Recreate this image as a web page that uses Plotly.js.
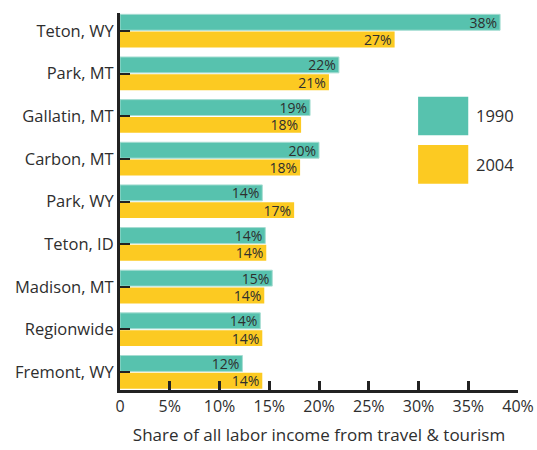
<!DOCTYPE html>
<html>
<head>
<meta charset="utf-8">
<script src="https://cdn.plot.ly/plotly-3.0.1.min.js"></script>
<style>html,body{margin:0;padding:0;background:#fff;}#chart{width:537px;height:450px;}</style>
</head>
<body>
<div id="chart"></div>
<script>
const categories = ["Teton, WY","Park, MT","Gallatin, MT","Carbon, MT","Park, WY","Teton, ID","Madison, MT","Regionwide","Fremont, WY"];
const values1990 = [38.2, 22.0, 19.1, 20.0, 14.3, 14.6, 15.3, 14.1, 12.3];
const values2004 = [27.6, 21.0, 18.2, 18.1, 17.5, 14.7, 14.5, 14.3, 14.3];
const labels1990 = ["38%","22%","19%","20%","14%","14%","15%","14%","12%"];
const labels2004 = ["27%","21%","18%","18%","17%","14%","14%","14%","14%"];
const xTickVals = [0,5,10,15,20,25,30,35,40];
const xTickText = ["0","5%","10%","15%","20%","25%","30%","35%","40%"];
const seriesNames = ["1990","2004"];
const teal = "#57C2AE", yellow = "#FCCA22";
const FONT = "'Open Sans', Lato, sans-serif";
const TXT = "#2e2e2e";

const traces = [
  {type:"bar", orientation:"h", name:seriesNames[0], y:categories, x:values1990, text:labels1990,
   textposition:"inside", insidetextanchor:"end", constraintext:"none", cliponaxis:false,
   textfont:{family:FONT, size:14, color:TXT},
   marker:{color:teal, line:{color:"#A6DDD2", width:1}}, hoverinfo:"x+y"},
  {type:"bar", orientation:"h", name:seriesNames[1], y:categories, x:values2004, text:labels2004,
   textposition:"inside", insidetextanchor:"end", constraintext:"none", cliponaxis:false,
   textfont:{family:FONT, size:14, color:TXT},
   marker:{color:yellow, line:{width:0}}, hoverinfo:"x+y"}
];

const layout = {
  width:537, height:450,
  margin:{l:120, r:19, t:13, b:60},
  paper_bgcolor:"#fff", plot_bgcolor:"#fff",
  showlegend:false,
  barmode:"group", bargap:0.19, bargroupgap:0.08,
  font:{family:FONT, color:TXT},
  xaxis:{range:[0,40], tickvals:xTickVals, ticktext:xTickText, showgrid:false, zeroline:false,
    showline:true, linecolor:"#222", linewidth:3, ticks:"inside", ticklen:9, tickwidth:3, tickcolor:"#222",
    tickfont:{family:FONT, size:16, color:TXT},
    title:{text:"Share of all labor income from travel &amp; tourism", font:{family:FONT, size:17, color:TXT}, standoff:13}},
  yaxis:{type:"category", categoryorder:"array", categoryarray:categories, range:[8.42,-0.42],
    showgrid:false, zeroline:false, showline:true, linecolor:"#222", linewidth:3,
    ticks:"inside", ticklen:10, tickwidth:2, tickcolor:"#222",
    tickfont:{family:FONT, size:16.5, color:TXT}},
  shapes:[
    {type:"rect", xref:"paper", yref:"paper", x0:0.749, x1:0.875, y0:0.676, y1:0.778, fillcolor:teal, line:{width:0}},
    {type:"rect", xref:"paper", yref:"paper", x0:0.749, x1:0.875, y0:0.547, y1:0.650, fillcolor:yellow, line:{width:0}}
  ],
  annotations:[
    {xref:"paper", yref:"paper", x:0.89, y:0.727, xanchor:"left", yanchor:"middle", showarrow:false, text:seriesNames[0], font:{family:FONT, size:16.5, color:TXT}},
    {xref:"paper", yref:"paper", x:0.89, y:0.598, xanchor:"left", yanchor:"middle", showarrow:false, text:seriesNames[1], font:{family:FONT, size:16.5, color:TXT}}
  ]
};

Plotly.newPlot("chart", traces, layout, {displayModeBar:false, staticPlot:true});
</script>
</body>
</html>
